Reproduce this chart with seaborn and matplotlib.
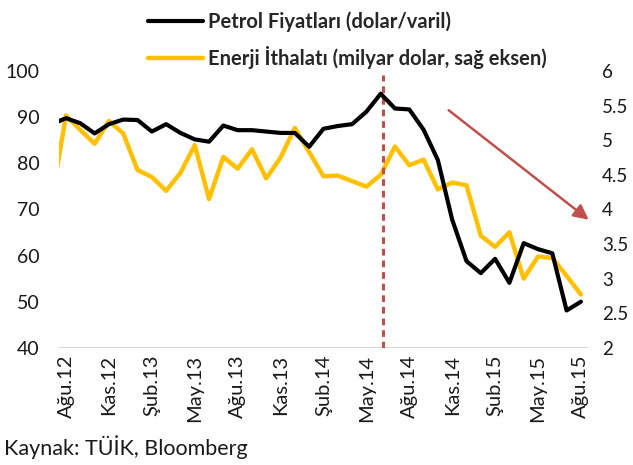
import numpy as np
import pandas as pd
import matplotlib
matplotlib.use("Agg")
import matplotlib.pyplot as plt
import seaborn as sns
from matplotlib.lines import Line2D

# month index: -1 = Tem.12 (partly cut by the axis), 0 = Ağu.12 ... 36 = Ağu.15
months = list(range(-1, 37))
petrol = [88.5, 89.8, 88.7, 86.5, 88.5, 89.5, 89.4, 86.9, 88.5, 86.6,
          85.2, 84.7, 88.2, 87.2, 87.2, 86.9, 86.6, 86.6, 83.6, 87.5,
          88.1, 88.5, 91.2, 95.1, 91.9, 91.7, 87.3, 80.7, 67.8, 58.8,
          56.2, 59.3, 54.1, 62.7, 61.4, 60.5, 48.1, 50.0]
enerji = [4.15, 5.36, 5.15, 4.95, 5.28, 5.10, 4.57, 4.47, 4.27, 4.53,
          4.93, 4.15, 4.76, 4.59, 4.87, 4.45, 4.75, 5.18, 4.83, 4.48,
          4.49, 4.41, 4.33, 4.50, 4.91, 4.64, 4.72, 4.29, 4.39, 4.35,
          3.62, 3.46, 3.67, 3.00, 3.32, 3.30, 3.04, 2.77]
tick_pos = list(range(0, 37, 3))
tick_labels = ["Ağu.12", "Kas.12", "Şub.13", "May.13", "Ağu.13", "Kas.13",
               "Şub.14", "May.14", "Ağu.14", "Kas.14", "Şub.15", "May.15", "Ağu.15"]
label_petrol = "Petrol Fiyatları (dolar/varil)"
label_enerji = "Enerji İthalatı (milyar dolar, sağ eksen)"

df = pd.DataFrame({"ay": months, "petrol": petrol, "enerji": enerji})

sns.set_style("white")
plt.rcParams["font.family"] = ["Lato", "DejaVu Sans"]

black = "#000000"
gold = "#FFC000"
red = "#C0504D"

fig = plt.figure(figsize=(6.33, 4.65), dpi=100)
ax = fig.add_axes([0.093, 0.252, 0.836, 0.595])
ax2 = ax.twinx()

sns.lineplot(data=df, x="ay", y="enerji", ax=ax2, color=gold, linewidth=3.2)
sns.lineplot(data=df, x="ay", y="petrol", ax=ax, color=black, linewidth=3.0)
ax.set_zorder(ax2.get_zorder() + 1)
ax.patch.set_visible(False)

ax.set_xlim(-0.5, 36.5)
ax.set_ylim(40, 100)
ax2.set_ylim(2, 6)
ax.set_yticks(range(40, 101, 10))
ax2.set_yticks(np.arange(2, 6.01, 0.5))
ax2.set_yticklabels(["2", "2.5", "3", "3.5", "4", "4.5", "5", "5.5", "6"])
ax.set_xticks(tick_pos)
ax.set_xticklabels(tick_labels, rotation=90)
ax.set_xlabel("")
ax.set_ylabel("")
ax2.set_ylabel("")

for a in (ax, ax2):
    for s in a.spines.values():
        s.set_visible(False)
    a.tick_params(length=0, labelsize=14, colors="#1a1a1a")
ax.tick_params(axis="x", labelsize=14.5, pad=5)
ax.tick_params(axis="y", pad=14)
ax2.tick_params(axis="y", pad=10, labelsize=13.5)
ax.axhline(40, color="#d0d0d0", linewidth=1.2, zorder=0)

# peak marker and trend arrow
ax.plot([22.15, 22.15], [40, 99.2], color=red, linewidth=2.2,
        linestyle=(0, (2.2, 1.6)), zorder=1)
ax.annotate("", xy=(36.7, 67.4), xytext=(26.6, 91.9), annotation_clip=False,
            arrowprops=dict(arrowstyle="-|>,head_length=0.9,head_width=0.45",
                            color=red, linewidth=1.8))

handles = [Line2D([], [], color=black, linewidth=3.0),
           Line2D([], [], color=gold, linewidth=3.2)]
fig.legend(handles, [label_petrol, label_enerji], loc="upper left",
           bbox_to_anchor=(0.205, 1.015), frameon=False, handlelength=2.75,
           handletextpad=0.25, labelspacing=0.7,
           prop={"weight": "bold", "size": 14.5})

fig.text(0.006, 0.022, "Kaynak: TÜİK, Bloomberg", fontsize=15.5, color="#1a1a1a")

fig.savefig("out.png", dpi=100)
